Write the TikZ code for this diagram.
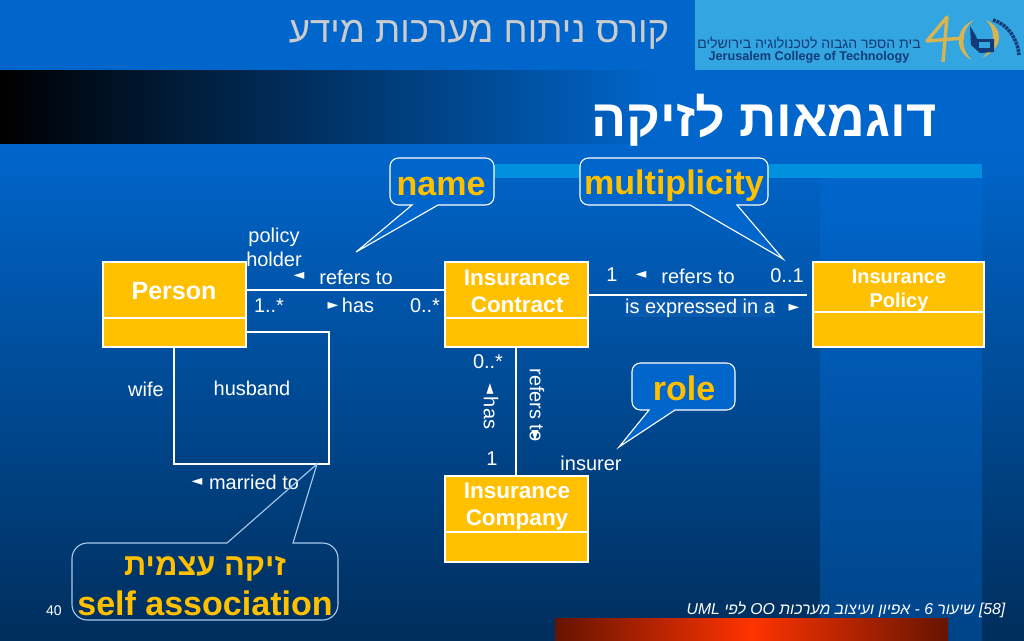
\documentclass[tikz,border=0pt]{standalone}
\usepackage{fontspec}
\usetikzlibrary{positioning}
\setmainfont{Liberation Sans}
\newfontfamily\hebfont[Script=Hebrew]{Liberation Sans}
\newfontfamily\symfont{DejaVu Sans}
\TeXXeTstate=1
\definecolor{slideblue}{HTML}{0066CC}
\definecolor{slidedark}{HTML}{002E5C}
\definecolor{bandblue}{HTML}{004488}
\definecolor{classgold}{HTML}{FFC000}
\definecolor{stripeblue}{HTML}{0090DD}
\definecolor{logoblue}{HTML}{33A5E0}
\definecolor{logogold}{HTML}{D9B552}
\definecolor{logodark}{HTML}{123C78}
\definecolor{redend}{HTML}{661400}
\definecolor{redmid}{HTML}{FF3300}
\definecolor{labelback}{HTML}{0A5AAE}
\tikzset{
	classbox/.style={draw=white, fill=classgold, line width=1.5pt, inner sep=0pt, outer sep=0pt},
	classtitle/.style={text=white, font=\bfseries\fontsize{16}{19.2}\selectfont, align=center, inner sep=0pt},
	assoclabel/.style={text=white, font=\fontsize{14.2}{17}\selectfont, inner sep=0pt},
	tritext/.style={text=white, font=\symfont\fontsize{10}{12}\selectfont, inner sep=0pt},
	assocline/.style={draw=white, line width=1.5pt},
	calloutbox/.style={draw=white, fill=slideblue, line width=0.8pt},
	callouttext/.style={text=classgold, font=\bfseries\fontsize{24.2}{29}\selectfont, inner sep=0pt}
}
\newcommand{\calloutr}{6pt}
\newcommand{\umlclass}[6] % name, left, top, right, bottom, y of the compartment line
{
	\node[classbox, minimum width={(#4-#2)*0.025cm}, minimum height={(#5-#3)*0.025cm}] (#1) at ({(#2+#4)/2},{(#3+#5)/2}) {};
	\draw[white, line width=1.2pt] (#2,#6) -- (#4,#6);
}
\newcommand{\callout}[9] % style, left, far y, right, base y, base start, base end, tip x, tip y
{
	\draw[#1] (#6,#5) -- (#8,#9) -- (#7,#5) [rounded corners=\calloutr] -- (#4,#5) -- (#4,#3) -- (#2,#3) -- (#2,#5) [sharp corners] -- (#6,#5) -- cycle;
}
\newcommand{\tlabel}[4] % name, x, y, text
{
	\node[assoclabel] (#1) at (#2,#3) {#4};
}
\begin{document}
\begin{tikzpicture}[x=0.025cm, y=-0.025cm]
	\useasboundingbox (0,0) rectangle (1024,640);
	% background
	\fill[slideblue] (0,0) rectangle (1024,143);
	\fill[top color=slideblue, bottom color=slidedark] (0,143) rectangle (1024,640);
	\fill[left color=black, right color=slideblue] (0,70) rectangle (660,143);
	\fill[top color=slideblue, bottom color=bandblue] (820,178) rectangle (982,640);
	\fill[stripeblue] (490,164) rectangle (982,178);
	\fill[left color=redend, right color=redend, middle color=redmid] (555,618) rectangle (948,640);

	% logo
	\fill[logoblue] (695,0) rectangle (1024,70);
	\node[text=logodark, font=\hebfont\fontsize{10}{12}\selectfont, inner sep=0pt] (logoheb) at (809,43) {\beginR בית הספר הגבוה לטכנולוגיה בירושלים\endR};
	\node[text=logodark, font=\bfseries\fontsize{9}{11}\selectfont, inner sep=0pt] (logoeng) at (809,57) {Jerusalem College of Technology};
	\draw[logogold, line width=2.4pt, line join=round] (943,62) -- (947,17) -- (927,41) -- (964,38);
	\fill[logogold] (974,20) .. controls (954,28) and (954,52) .. (972,60) .. controls (960,50) and (960,30) .. (974,20) -- cycle;
	\fill[logogold] (986,20) .. controls (1004,28) and (1004,48) .. (982,58) .. controls (996,46) and (996,30) .. (986,20) -- cycle;
	\fill[logodark] (971,45) -- (970,26) -- (976,36) -- (977,39) -- (994,39) -- (994,52) -- (980,53) -- cycle;
	\fill[logoblue] (979,42) rectangle (990,48);
	\draw[logodark, line width=2.5pt, dash pattern=on 2pt off 0.6pt] (993,20) .. controls (1008,24) and (1018,40) .. (1019,55);

	% titles
	\node[text=black!20!white, font=\hebfont\fontsize{26}{31}\selectfont, inner sep=0pt] (coursename) at (479,35) {\beginR קורס ניתוח מערכות מידע\endR};
	\node[text=white, font=\hebfont\bfseries\fontsize{37}{44}\selectfont, inner sep=0pt] (slidetitle) at (764,120) {\beginR דוגמאות לזיקה\endR};

	% classes
	\umlclass{person}{103}{262}{246}{347}{318};
	\umlclass{contract}{445}{262}{588}{347}{318};
	\umlclass{policy}{813}{262}{984}{347}{312};
	\umlclass{company}{445}{476}{588}{562}{532};
	\node[classtitle, font=\bfseries\fontsize{17.8}{20}\selectfont] (persontitle) at (174,291) {Person};
	\node[classtitle] (contracttitle) at (517,291.5) {Insurance\\Contract};
	\node[classtitle, font=\bfseries\fontsize{14.2}{17}\selectfont] (policytitle) at (899,291) {Insurance\\Policy};
	\node[classtitle] (companytitle) at (517,507) {Insurance\\Company};

	% associations
	\coordinate (personline) at (246,290);
	\coordinate (policyline) at (807,295);
	\coordinate (companyline) at (516,400);
	\coordinate (selfwife) at (174,464);
	\coordinate (selfhusband) at (329,332);
	\draw[assocline] (person.east |- personline) -- (contract.west |- personline);
	\draw[assocline] (contract.east |- policyline) -- (policyline);
	\draw[assocline] (contract.south -| companyline) -- (company.north -| companyline);
	\draw[assocline] (person.south -| selfwife) -- (selfwife) -- (selfhusband |- selfwife) -- (selfhusband) -- (person.east |- selfhusband);

	% association labels
	\tlabel{policyname}{274}{237}{policy};
	\tlabel{holdername}{274}{259}{holder};
	\tlabel{refersa}{356}{277}{refers to};
	\node[tritext] (refersatri) at (299,276) {◄};
	\tlabel{hasa}{358}{305}{has};
	\node[tritext] (hasatri) at (333,306) {►};
	\tlabel{multa}{269}{306}{1..*};
	\tlabel{multb}{425}{306}{0..*};
	\tlabel{wifename}{146}{389}{wife};
	\tlabel{husbandname}{252}{388}{husband};
	\tlabel{marriedto}{254}{482}{married to};
	\node[tritext] (marriedtri) at (197,482) {◄};
	\tlabel{multc}{612}{275}{1};
	\node[tritext] (refersbtri) at (641,275) {◄};
	\tlabel{refersb}{698}{276}{refers to};
	\tlabel{multd}{787}{276}{0..1};
	\node[assoclabel, fill=labelback] (expressed) at (700,308) {is expressed in a};
	\node[tritext] (expressedtri) at (794,308) {►};
	\tlabel{multe}{488}{362}{0..*};
	\tlabel{multf}{492}{459}{1};
	\tlabel{insurername}{591}{463}{insurer};
	\node[assoclabel, rotate=-90] (hasb) at (491,413) {has};
	\node[tritext, rotate=-90] (hasbtri) at (490,389) {◄};
	\node[assoclabel, rotate=-90] (refersc) at (537,405) {refers to};
	\node[tritext, rotate=-90] (referscri) at (535,436) {►};

	% callouts
	\callout{calloutbox}{390}{158}{494}{205}{412}{438}{356}{252};
	\callout{calloutbox}{580}{158}{768}{205}{690}{737}{783}{259};
	\callout{calloutbox}{632}{363}{735}{410}{649}{675}{619}{447};
	\renewcommand{\calloutr}{11pt}
	\callout{draw=white!65!slideblue, line width=0.8pt}{72}{620}{338}{543}{227}{293}{317}{464};
	\node[callouttext] (namecall) at (441,186) {name};
	\node[callouttext] (multcall) at (674,186) {multiplicity};
	\node[callouttext] (rolecall) at (684,388) {role};
	\node[callouttext] (selfcall) at (205,603) {self association};
	\node[callouttext, font=\hebfont\bfseries\fontsize{22}{26}\selectfont] (selfheb) at (205,569) {\beginR זיקה עצמית\endR};

	% footer
	\node[text=white, font=\fontsize{10}{12}\selectfont, inner sep=0pt] (pagenum) at (54,611) {40};
	\node[text=white, font=\hebfont\itshape\fontsize{11.2}{13}\selectfont, inner sep=0pt] (footer) at (846,610) {\beginR\beginL[58]\endL{} שיעור \beginL 6\endL{} - אפיון ועיצוב מערכות \beginL OO\endL{} לפי \beginL UML\endL\endR};
\end{tikzpicture}
\end{document}
